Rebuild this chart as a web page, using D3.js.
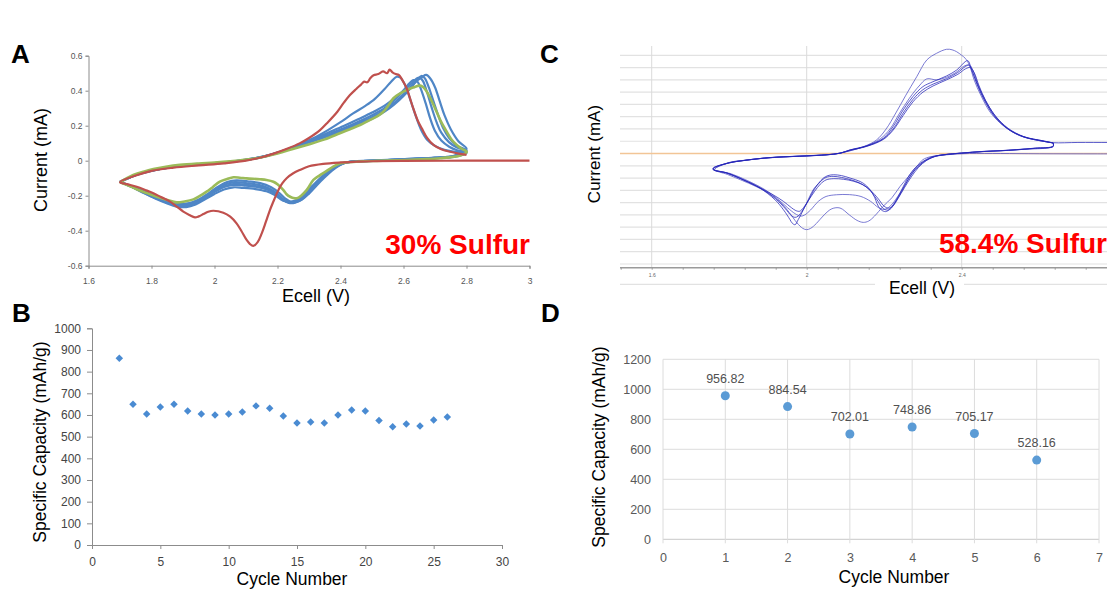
<!DOCTYPE html>
<html>
<head>
<meta charset="utf-8">
<script src="https://cdn.jsdelivr.net/npm/d3@7"></script>
<style>
html, body { margin: 0; padding: 0; background: #fff; }
svg { display: block; font-family: "Liberation Sans", Arial, sans-serif; }
</style>
</head>
<body>
<svg id="fig" width="1107" height="591"></svg>
<script>
// ---------- panel A : CV, 30% sulfur (V, mA) ----------
var aXTicks = [1.6, 1.8, 2.0, 2.2, 2.4, 2.6, 2.8, 3.0];
var aYTicks = [-0.6, -0.4, -0.2, 0, 0.2, 0.4, 0.6];

var aRed = [[3.00,0],[2.80,0],[2.60,-0.001],[2.50,-0.003],[2.45,-0.006],[2.40,-0.01],[2.345,-0.018],[2.30,-0.032],[2.271,-0.053],[2.25,-0.072],[2.229,-0.10],[2.215,-0.13],[2.203,-0.167],[2.19,-0.22],[2.176,-0.282],[2.163,-0.35],[2.15,-0.415],[2.137,-0.465],[2.123,-0.487],[2.112,-0.475],[2.102,-0.453],[2.085,-0.40],[2.07,-0.358],[2.05,-0.32],[2.028,-0.297],[1.996,-0.286],[1.98,-0.292],[1.965,-0.305],[1.95,-0.318],[1.938,-0.324],[1.92,-0.31],[1.901,-0.291],[1.88,-0.262],[1.859,-0.234],[1.83,-0.208],[1.806,-0.186],[1.78,-0.167],[1.753,-0.149],[1.725,-0.135],[1.70,-0.123],
  [1.75,-0.085],[1.80,-0.058],[1.87,-0.04],[1.95,-0.027],[2.03,-0.015],[2.10,0.0],[2.15,0.02],[2.19,0.042],[2.23,0.068],[2.27,0.099],[2.30,0.13],[2.335,0.175],[2.36,0.22],[2.39,0.28],[2.41,0.33],[2.43,0.375],[2.45,0.41],[2.465,0.435],[2.475,0.452],[2.485,0.448],[2.495,0.472],[2.505,0.488],[2.52,0.495],[2.535,0.51],[2.548,0.50],[2.556,0.52],[2.565,0.505],[2.575,0.495],[2.585,0.49],[2.595,0.465],[2.61,0.414],[2.62,0.36],[2.631,0.299],[2.645,0.23],[2.658,0.185],[2.675,0.13],[2.695,0.09],[2.72,0.065],[2.748,0.051],[2.775,0.04],[2.80,0.033]];

var aGreen = [[1.70,-0.123],[1.742,-0.082],[1.78,-0.06],[1.806,-0.048],[1.85,-0.033],[1.89,-0.024],[1.95,-0.016],[2.00,-0.011],[2.05,-0.004],[2.10,0.006],[2.15,0.02],[2.187,0.035],[2.24,0.062],[2.293,0.09],[2.35,0.122],[2.398,0.157],[2.43,0.18],[2.462,0.204],[2.485,0.225],[2.504,0.242],[2.52,0.258],[2.536,0.28],[2.55,0.31],[2.568,0.357],[2.59,0.385],[2.61,0.404],[2.63,0.418],[2.652,0.429],[2.663,0.42],[2.674,0.394],[2.69,0.34],[2.705,0.28],[2.72,0.22],[2.737,0.166],[2.753,0.12],[2.769,0.09],[2.785,0.068],[2.801,0.051],
  [2.78,0.03],[2.716,0.014],[2.66,0.008],[2.61,0.004],[2.55,0.001],[2.504,-0.002],[2.46,-0.005],[2.42,-0.009],[2.40,-0.015],[2.377,-0.034],[2.355,-0.06],[2.335,-0.082],[2.314,-0.11],[2.293,-0.167],[2.275,-0.2],[2.261,-0.215],[2.25,-0.213],[2.24,-0.206],[2.228,-0.19],[2.218,-0.167],[2.2,-0.135],[2.187,-0.12],[2.165,-0.11],[2.144,-0.106],[2.102,-0.101],[2.08,-0.097],[2.06,-0.095],[2.04,-0.105],[2.017,-0.12],[1.995,-0.15],[1.975,-0.177],[1.955,-0.2],[1.933,-0.221],[1.905,-0.233],[1.88,-0.238],[1.85,-0.224],[1.817,-0.206],[1.785,-0.185],[1.753,-0.163],[1.725,-0.14],[1.70,-0.123]];

var aBlue1 = [[1.70,-0.12],[1.75,-0.083],[1.80,-0.058],[1.87,-0.036],[1.95,-0.022],[2.03,-0.01],[2.10,0.004],[2.16,0.025],[2.21,0.05],[2.26,0.085],[2.31,0.125],[2.36,0.175],[2.40,0.22],[2.44,0.27],[2.48,0.315],[2.51,0.355],[2.54,0.41],[2.56,0.45],[2.578,0.48],[2.59,0.475],[2.60,0.45],[2.61,0.41],[2.625,0.33],[2.64,0.25],[2.655,0.18],[2.675,0.12],[2.70,0.085],[2.73,0.062],[2.765,0.05],[2.80,0.042],
  [2.76,0.022],[2.70,0.014],[2.62,0.008],[2.55,0.003],[2.49,-0.002],[2.44,-0.006],[2.41,-0.012],[2.385,-0.03],[2.36,-0.06],[2.335,-0.1],[2.31,-0.145],[2.285,-0.19],[2.26,-0.225],[2.24,-0.235],[2.225,-0.232],[2.21,-0.22],[2.19,-0.195],[2.165,-0.175],[2.13,-0.162],[2.09,-0.155],[2.06,-0.152],[2.03,-0.165],[2.00,-0.19],[1.97,-0.22],[1.94,-0.25],[1.91,-0.265],[1.88,-0.262],[1.85,-0.245],[1.81,-0.215],[1.77,-0.18],[1.735,-0.148],[1.70,-0.12]];
var aBlue2 = [[1.70,-0.121],[1.75,-0.08],[1.80,-0.056],[1.87,-0.035],[1.95,-0.021],[2.03,-0.01],[2.10,0.005],[2.16,0.026],[2.21,0.052],[2.26,0.085],[2.31,0.118],[2.36,0.15],[2.41,0.185],[2.46,0.225],[2.50,0.26],[2.54,0.30],[2.57,0.345],[2.595,0.39],[2.615,0.435],[2.632,0.46],[2.645,0.45],[2.655,0.41],[2.67,0.33],[2.685,0.24],[2.70,0.17],[2.72,0.115],[2.745,0.08],[2.77,0.06],[2.80,0.048],
  [2.76,0.024],[2.70,0.016],[2.62,0.009],[2.55,0.004],[2.49,-0.001],[2.44,-0.005],[2.415,-0.012],[2.39,-0.03],[2.365,-0.06],[2.34,-0.1],[2.315,-0.145],[2.29,-0.195],[2.265,-0.228],[2.245,-0.238],[2.23,-0.235],[2.215,-0.22],[2.195,-0.19],[2.17,-0.165],[2.135,-0.15],[2.095,-0.142],[2.06,-0.138],[2.03,-0.15],[2.00,-0.178],[1.97,-0.21],[1.94,-0.24],[1.91,-0.257],[1.88,-0.255],[1.85,-0.24],[1.81,-0.212],[1.77,-0.178],[1.735,-0.147],[1.70,-0.121]];
var aBlue3 = [[1.70,-0.122],[1.75,-0.082],[1.80,-0.057],[1.87,-0.036],[1.95,-0.022],[2.03,-0.011],[2.10,0.005],[2.16,0.024],[2.21,0.05],[2.26,0.08],[2.31,0.11],[2.36,0.14],[2.41,0.172],[2.46,0.208],[2.50,0.24],[2.54,0.28],[2.57,0.32],[2.60,0.37],[2.625,0.42],[2.645,0.465],[2.658,0.485],[2.668,0.47],[2.68,0.42],[2.695,0.34],[2.71,0.26],[2.725,0.19],[2.745,0.13],[2.77,0.085],[2.80,0.058],
  [2.76,0.026],[2.70,0.017],[2.62,0.01],[2.55,0.004],[2.49,-0.001],[2.44,-0.005],[2.415,-0.011],[2.392,-0.028],[2.37,-0.055],[2.345,-0.095],[2.32,-0.14],[2.295,-0.19],[2.272,-0.225],[2.252,-0.24],[2.236,-0.238],[2.22,-0.222],[2.2,-0.19],[2.175,-0.16],[2.14,-0.138],[2.10,-0.128],[2.065,-0.122],[2.035,-0.135],[2.005,-0.165],[1.975,-0.2],[1.945,-0.232],[1.915,-0.25],[1.885,-0.25],[1.855,-0.236],[1.815,-0.21],[1.775,-0.177],[1.735,-0.147],[1.70,-0.122]];
var aBlue4 = [[1.70,-0.122],[1.75,-0.081],[1.80,-0.056],[1.87,-0.035],[1.95,-0.021],[2.03,-0.01],[2.10,0.006],[2.16,0.026],[2.21,0.052],[2.26,0.083],[2.31,0.114],[2.36,0.146],[2.41,0.18],[2.46,0.215],[2.50,0.248],[2.54,0.29],[2.57,0.33],[2.60,0.38],[2.625,0.425],[2.645,0.46],[2.66,0.48],[2.672,0.49],[2.685,0.47],[2.70,0.42],[2.715,0.34],[2.73,0.26],[2.75,0.18],[2.775,0.11],[2.80,0.068],
  [2.76,0.028],[2.70,0.018],[2.62,0.011],[2.55,0.005],[2.49,0.0],[2.44,-0.004],[2.418,-0.01],[2.396,-0.027],[2.374,-0.055],[2.35,-0.095],[2.325,-0.14],[2.30,-0.188],[2.278,-0.222],[2.258,-0.236],[2.242,-0.235],[2.226,-0.218],[2.206,-0.185],[2.18,-0.152],[2.145,-0.128],[2.105,-0.118],[2.07,-0.112],[2.04,-0.122],[2.01,-0.15],[1.98,-0.188],[1.95,-0.222],[1.92,-0.242],[1.89,-0.246],[1.86,-0.233],[1.82,-0.208],[1.78,-0.178],[1.74,-0.148],[1.70,-0.122]];
var aBlue5 = [[1.70,-0.122],[1.75,-0.082],[1.80,-0.057],[1.87,-0.036],[1.95,-0.022],[2.03,-0.011],[2.10,0.004],[2.16,0.025],[2.21,0.051],[2.26,0.086],[2.31,0.122],[2.36,0.16],[2.41,0.198],[2.46,0.24],[2.50,0.275],[2.54,0.315],[2.57,0.355],[2.60,0.40],[2.625,0.44],[2.642,0.47],[2.652,0.475],[2.662,0.455],[2.675,0.39],[2.69,0.3],[2.705,0.22],[2.72,0.16],[2.745,0.105],[2.77,0.075],[2.80,0.055],
  [2.76,0.025],[2.70,0.016],[2.62,0.009],[2.55,0.004],[2.49,-0.001],[2.44,-0.005],[2.415,-0.011],[2.39,-0.03],[2.366,-0.06],[2.342,-0.1],[2.318,-0.145],[2.293,-0.192],[2.27,-0.228],[2.25,-0.242],[2.234,-0.24],[2.218,-0.225],[2.198,-0.195],[2.172,-0.168],[2.14,-0.148],[2.10,-0.138],[2.065,-0.132],[2.035,-0.145],[2.005,-0.172],[1.975,-0.205],[1.945,-0.236],[1.915,-0.255],[1.885,-0.255],[1.855,-0.24],[1.815,-0.212],[1.775,-0.178],[1.735,-0.147],[1.70,-0.122]];

// ---------- panel B : capacity per cycle, 30% sulfur ----------
var bCycles = [2,3,4,5,6,7,8,9,10,11,12,13,14,15,16,17,18,19,20,21,22,23,24,25,26];
var bCapacity = [862,649,605,637,649,618,605,600,605,614,642,631,595,563,568,563,600,623,618,574,546,558,549,577,591];
var bXTicks = [0,5,10,15,20,25,30];
var bYTicks = [0,100,200,300,400,500,600,700,800,900,1000];

// ---------- panel C : CV, 58.4% sulfur (V, grid units of 0.1 mA) ----------
var cXLabels = [1.6, 2.0, 2.4];
var cGridY = [-0.9,-0.8,-0.7,-0.6,-0.5,-0.4,-0.3,-0.2,-0.1,0.1,0.2,0.3,0.4,0.5,0.6,0.7,0.8];

var cCycle1 = [[2.86,-0.003],[2.75,-0.003],[2.60,-0.002],[2.50,0.0],[2.42,0.0],[2.37,-0.008],[2.335,-0.02],[2.318,-0.027],[2.30,-0.05],[2.284,-0.106],[2.262,-0.19],[2.241,-0.268],[2.22,-0.36],[2.197,-0.431],[2.175,-0.51],[2.16,-0.55],[2.146,-0.561],[2.13,-0.545],[2.11,-0.5],[2.086,-0.444],[2.065,-0.45],[2.045,-0.5],[2.025,-0.57],[2.01,-0.61],[2.00,-0.62],[1.99,-0.61],[1.975,-0.565],[1.955,-0.48],[1.93,-0.39],[1.90,-0.32],[1.87,-0.27],[1.83,-0.215],[1.795,-0.17],[1.762,-0.13],
  [1.80,-0.073],[1.84,-0.055],[1.90,-0.035],[1.96,-0.024],[2.02,-0.015],[2.07,-0.005],[2.11,0.02],[2.15,0.06],[2.18,0.11],[2.205,0.2],[2.23,0.33],[2.255,0.47],[2.284,0.626],[2.31,0.762],[2.335,0.816],[2.361,0.849],[2.375,0.845],[2.387,0.829],[2.40,0.8],[2.409,0.776],[2.42,0.72],[2.432,0.6],[2.45,0.47],[2.475,0.33],[2.51,0.22],[2.55,0.145],[2.60,0.105],[2.636,0.088]];
var cCycle2 = [[2.636,0.088],[2.636,0.06],[2.55,0.032],[2.46,0.018],[2.40,0.004],[2.355,-0.01],[2.33,-0.025],[2.30,-0.07],[2.275,-0.15],[2.255,-0.25],[2.235,-0.35],[2.215,-0.43],[2.2,-0.455],[2.185,-0.44],[2.165,-0.39],[2.14,-0.35],[2.11,-0.335],[2.077,-0.336],[2.05,-0.35],[2.03,-0.39],[2.01,-0.46],[1.995,-0.5],[1.985,-0.51],[1.97,-0.49],[1.95,-0.44],[1.925,-0.37],[1.89,-0.29],[1.85,-0.225],[1.805,-0.165],[1.762,-0.13],
  [1.80,-0.075],[1.84,-0.056],[1.90,-0.036],[1.96,-0.025],[2.02,-0.016],[2.07,-0.006],[2.11,0.022],[2.155,0.063],[2.19,0.12],[2.215,0.2],[2.24,0.33],[2.265,0.45],[2.29,0.55],[2.31,0.608],[2.335,0.6],[2.36,0.62],[2.385,0.66],[2.405,0.71],[2.418,0.72],[2.428,0.66],[2.44,0.56],[2.458,0.44],[2.485,0.3],[2.52,0.2],[2.56,0.135],[2.61,0.1],[2.636,0.085]];
var cCycle3 = [[2.636,0.085],[2.636,0.057],[2.59,0.042],[2.542,0.03],[2.50,0.022],[2.456,0.016],[2.40,0.003],[2.353,-0.011],[2.326,-0.024],[2.30,-0.065],[2.275,-0.133],[2.258,-0.214],[2.241,-0.322],[2.223,-0.418],[2.206,-0.472],[2.195,-0.465],[2.185,-0.43],[2.172,-0.336],[2.155,-0.265],[2.138,-0.228],[2.112,-0.2],[2.09,-0.18],[2.069,-0.173],[2.055,-0.18],[2.043,-0.2],[2.03,-0.245],[2.017,-0.295],[2.00,-0.403],[1.988,-0.48],[1.978,-0.539],[1.97,-0.58],[1.962,-0.565],[1.957,-0.539],[1.94,-0.458],[1.918,-0.376],[1.879,-0.281],[1.836,-0.214],[1.794,-0.159],[1.759,-0.133],
  [1.759,-0.119],[1.80,-0.075],[1.836,-0.057],[1.88,-0.04],[1.923,-0.029],[2.00,-0.019],[2.05,-0.01],[2.086,0.003],[2.112,0.03],[2.155,0.063],[2.198,0.125],[2.223,0.22],[2.249,0.355],[2.274,0.463],[2.30,0.545],[2.326,0.585],[2.361,0.632],[2.387,0.68],[2.409,0.748],[2.416,0.756],[2.426,0.68],[2.439,0.572],[2.456,0.45],[2.482,0.315],[2.516,0.207],[2.558,0.138],[2.61,0.103],[2.636,0.085]];
var cCycle4 = [[2.636,0.086],[2.636,0.058],[2.59,0.043],[2.542,0.031],[2.50,0.022],[2.456,0.016],[2.40,0.003],[2.355,-0.01],[2.33,-0.024],[2.305,-0.062],[2.28,-0.13],[2.262,-0.21],[2.245,-0.31],[2.228,-0.4],[2.215,-0.455],[2.205,-0.46],[2.195,-0.44],[2.18,-0.37],[2.16,-0.29],[2.14,-0.245],[2.115,-0.215],[2.09,-0.195],[2.068,-0.186],[2.05,-0.195],[2.035,-0.23],[2.02,-0.29],[2.005,-0.38],[1.99,-0.46],[1.978,-0.51],[1.97,-0.52],[1.96,-0.505],[1.945,-0.45],[1.92,-0.37],[1.88,-0.28],[1.836,-0.213],[1.794,-0.158],[1.759,-0.13],
  [1.759,-0.119],[1.80,-0.076],[1.836,-0.058],[1.88,-0.041],[1.923,-0.03],[2.00,-0.02],[2.05,-0.011],[2.086,0.002],[2.112,0.028],[2.155,0.06],[2.198,0.12],[2.223,0.2],[2.249,0.33],[2.274,0.44],[2.30,0.52],[2.326,0.565],[2.361,0.61],[2.39,0.66],[2.41,0.71],[2.42,0.72],[2.43,0.67],[2.442,0.56],[2.46,0.44],[2.486,0.31],[2.52,0.205],[2.56,0.138],[2.61,0.103],[2.636,0.086]];
var cCycle5 = [[2.636,0.086],[2.636,0.06],[2.59,0.044],[2.542,0.032],[2.50,0.023],[2.456,0.017],[2.40,0.004],[2.357,-0.008],[2.335,-0.02],[2.31,-0.055],[2.288,-0.115],[2.27,-0.19],[2.252,-0.28],[2.235,-0.37],[2.222,-0.43],[2.212,-0.445],[2.2,-0.43],[2.185,-0.37],[2.165,-0.3],[2.145,-0.255],[2.12,-0.225],[2.095,-0.21],[2.07,-0.205],[2.05,-0.215],[2.035,-0.25],[2.02,-0.31],[2.005,-0.38],[1.992,-0.44],[1.982,-0.47],[1.972,-0.465],[1.96,-0.44],[1.94,-0.39],[1.91,-0.33],[1.87,-0.265],[1.83,-0.205],[1.794,-0.16],[1.759,-0.132],
  [1.759,-0.12],[1.80,-0.077],[1.836,-0.058],[1.88,-0.041],[1.923,-0.03],[2.00,-0.02],[2.05,-0.011],[2.086,0.002],[2.112,0.027],[2.155,0.058],[2.198,0.115],[2.223,0.19],[2.249,0.31],[2.274,0.42],[2.30,0.5],[2.326,0.55],[2.361,0.6],[2.39,0.645],[2.41,0.69],[2.422,0.7],[2.432,0.66],[2.445,0.55],[2.462,0.43],[2.488,0.3],[2.52,0.2],[2.56,0.136],[2.61,0.1],[2.636,0.088],[2.70,0.09],[2.78,0.09],[2.86,0.09]];

// ---------- panel D : capacity per cycle, 58.4% sulfur ----------
var dCycles = [1,2,3,4,5,6];
var dCapacity = [956.82,884.54,702.01,748.86,705.17,528.16];
var dXTicks = [0,1,2,3,4,5,6,7];
var dYTicks = [0,200,400,600,800,1000,1200];

var W = 1107, H = 591;
var FONT = '"Liberation Sans", Arial, sans-serif';

var translate = function(x, y) {
  return "translate(" + x + "," + y + ")";
};

var svg = d3.select('#fig');
svg.append('rect').attr('width', W).attr('height', H).attr('fill', '#fff');

var styleAxis = function(g, lineColor, textColor, size) {
  g.attr('font-family', FONT);
  g.select('.domain').attr('stroke', lineColor);
  g.selectAll('.tick line').attr('stroke', lineColor);
  g.selectAll('.tick text').attr('fill', textColor).attr('font-size', size);
};

var trimFmt = function(d) { return String(Math.round(d * 10) / 10); };
var plainFmt = function(d) { return String(d); };

var addText = function(txt, x, y, size, opts) {
  opts = opts || {};
  var t = svg.append('text')
    .attr('x', x).attr('y', y)
    .attr('font-size', size)
    .attr('font-family', FONT)
    .attr('font-weight', opts.bold ? 'bold' : 'normal')
    .attr('fill', opts.fill || '#000')
    .attr('text-anchor', opts.anchor || 'middle')
    .text(txt);
  if (opts.rotate) t.attr('transform', 'rotate(-90,' + x + ',' + y + ')');
  return t;
};

// ================= A =================
var xA = d3.scaleLinear().domain([1.6, 3]).range([88.5, 529.5]);
var yA = d3.scaleLinear().domain([-0.6, 0.6]).range([265.7, 55.7]);

var gA = svg.append('g');
gA.append('g')
  .attr('transform', translate(0, yA(-0.6)))
  .call(d3.axisBottom(xA).tickValues(aXTicks).tickSize(3).tickPadding(9).tickFormat(trimFmt))
  .call(styleAxis, '#8c8c8c', '#555', 8.5);
gA.append('g')
  .attr('transform', translate(xA(1.6), 0))
  .call(d3.axisLeft(yA).tickValues(aYTicks).tickSize(3).tickPadding(3).tickFormat(trimFmt))
  .call(styleAxis, '#8c8c8c', '#555', 8.5);

var lineA = d3.line()
  .x(function(d) { return xA(d[0]); })
  .y(function(d) { return yA(d[1]); })
  .curve(d3.curveCatmullRom.alpha(0.5));

[aBlue1, aBlue2, aBlue3, aBlue4, aBlue5].forEach(function(c) {
  gA.append('path').datum(c).attr('d', lineA)
    .attr('fill', 'none').attr('stroke', '#4f86c6').attr('stroke-width', 2.2);
});
gA.append('path').datum(aGreen).attr('d', lineA)
  .attr('fill', 'none').attr('stroke', '#9bbb59').attr('stroke-width', 2.6);
gA.append('path').datum(aRed).attr('d', lineA)
  .attr('fill', 'none').attr('stroke', '#c0504d').attr('stroke-width', 2.2);

addText('Current (mA)', 47, 160, 18, {rotate: true});
addText('Ecell (V)', 316, 302, 18);
addText('30% Sulfur', 530, 253.5, 28, {bold: true, fill: '#ff0000', anchor: 'end'});
addText('A', 11, 63, 26, {bold: true, anchor: 'start'});

// ================= B =================
var xB = d3.scaleLinear().domain([0, 30]).range([92, 502]);
var yB = d3.scaleLinear().domain([0, 1000]).range([545, 328.3]);

svg.append('g')
  .attr('transform', translate(0, yB(0)))
  .call(d3.axisBottom(xB).tickValues(bXTicks).tickSize(4).tickPadding(8).tickFormat(plainFmt))
  .call(styleAxis, '#8c8c8c', '#444', 12);
svg.append('g')
  .attr('transform', translate(xB(0), 0))
  .call(d3.axisLeft(yB).tickValues(bYTicks).tickSize(5).tickPadding(6).tickFormat(plainFmt))
  .call(styleAxis, '#8c8c8c', '#444', 12);

svg.append('g').selectAll('path')
  .data(bCycles)
  .enter().append('path')
  .attr('d', d3.symbol().type(d3.symbolSquare).size(28))
  .attr('transform', function(d, i) { return translate(xB(d), yB(bCapacity[i])) + ' rotate(45)'; })
  .attr('fill', '#4a8bd2');

addText('Specific Capacity (mAh/g)', 46, 442, 17.5, {rotate: true});
addText('Cycle Number', 292, 585, 17.5);
addText('B', 12, 322, 26, {bold: true, anchor: 'start'});

// ================= C =================
var xC = d3.scaleLinear().domain([1.6, 2.4]).range([651.7, 961.7]);
var yC = d3.scaleLinear().domain([-0.9, 0.8]).range([264, 55.3]);
var cLeft = 620, cBottom = 267.7;

var gC = svg.append('g');
gC.selectAll('line.hgrid')
  .data(cGridY)
  .enter().append('line')
  .attr('x1', cLeft).attr('x2', W)
  .attr('y1', function(d) { return yC(d); })
  .attr('y2', function(d) { return yC(d); })
  .attr('stroke', '#e2e2e2').attr('stroke-width', 1.2);
gC.selectAll('line.vgrid')
  .data(cXLabels)
  .enter().append('line')
  .attr('x1', function(d) { return xC(d); })
  .attr('x2', function(d) { return xC(d); })
  .attr('y1', 46).attr('y2', cBottom)
  .attr('stroke', '#dadada').attr('stroke-width', 1);
// zero line
gC.append('line')
  .attr('x1', cLeft).attr('x2', W)
  .attr('y1', yC(0)).attr('y2', yC(0))
  .attr('stroke', '#f2c596').attr('stroke-width', 1.4);
// line under the axis, broken by the title
gC.append('line')
  .attr('x1', cLeft).attr('x2', W)
  .attr('y1', 284.3).attr('y2', 284.3)
  .attr('stroke', '#e2e2e2').attr('stroke-width', 1.2);

var cAxis = gC.append('g')
  .attr('transform', translate(0, cBottom))
  .call(d3.axisBottom(xC).tickValues(d3.range(1.52, 2.85, 0.08)).tickSize(2).tickPadding(4)
    .tickFormat(function(d) {
      var v = Math.round(d * 100) / 100;
      return cXLabels.indexOf(v) >= 0 ? String(v) : '';
    }))
  .call(styleAxis, '#9a9a9a', '#666', 5);
cAxis.select('.domain').attr('d', 'M' + cLeft + ',0H' + W).attr('stroke-width', 1.4);

var lineC = d3.line()
  .x(function(d) { return xC(d[0]); })
  .y(function(d) { return yC(d[1]); })
  .curve(d3.curveCatmullRom.alpha(0.5));

[cCycle1, cCycle2, cCycle3, cCycle4, cCycle5].forEach(function(c, i) {
  gC.append('path').datum(c).attr('d', lineC)
    .attr('fill', 'none')
    .attr('stroke', i < 2 ? '#5a5ac8' : '#2424b8')
    .attr('stroke-opacity', i < 2 ? 0.8 : 0.75)
    .attr('stroke-width', 1);
});

addText('Current (mA)', 600, 154, 17, {rotate: true});
svg.append('rect').attr('x', 875).attr('y', 279).attr('width', 89).attr('height', 18).attr('fill', '#fff');
addText('Ecell (V)', 922, 293.5, 17.5);
addText('58.4% Sulfur', 1107, 253, 28, {bold: true, fill: '#ff0000', anchor: 'end'});
addText('C', 540, 63, 26, {bold: true, anchor: 'start'});

// ================= D =================
var xD = d3.scaleLinear().domain([0, 7]).range([663, 1099]);
var yD = d3.scaleLinear().domain([0, 1200]).range([539.3, 359.3]);

var gD = svg.append('g');
gD.selectAll('line.hg')
  .data(dYTicks)
  .enter().append('line')
  .attr('x1', xD(0)).attr('x2', xD(7))
  .attr('y1', function(d) { return yD(d); })
  .attr('y2', function(d) { return yD(d); })
  .attr('stroke', function(d) { return d === 0 ? '#c8c8c8' : '#dcdcdc'; })
  .attr('stroke-width', 1);
gD.selectAll('line.vg')
  .data(dXTicks)
  .enter().append('line')
  .attr('x1', function(d) { return xD(d); })
  .attr('x2', function(d) { return xD(d); })
  .attr('y1', yD(1200)).attr('y2', yD(0) + 4)
  .attr('stroke', '#dcdcdc').attr('stroke-width', 1);

var dx = gD.append('g')
  .attr('transform', translate(0, yD(0)))
  .call(d3.axisBottom(xD).tickValues(dXTicks).tickSize(0).tickPadding(14).tickFormat(plainFmt))
  .call(styleAxis, 'none', '#595959', 12.5);
dx.select('.domain').remove();
var dy = gD.append('g')
  .attr('transform', translate(xD(0), 0))
  .call(d3.axisLeft(yD).tickValues(dYTicks).tickSize(0).tickPadding(12).tickFormat(plainFmt))
  .call(styleAxis, 'none', '#595959', 12.5);
dy.select('.domain').remove();

gD.selectAll('circle')
  .data(dCycles)
  .enter().append('circle')
  .attr('cx', function(d) { return xD(d); })
  .attr('cy', function(d, i) { return yD(dCapacity[i]); })
  .attr('r', 4.5)
  .attr('fill', '#5b9bd5');
gD.selectAll('text.lbl')
  .data(dCycles)
  .enter().append('text')
  .attr('x', function(d) { return xD(d); })
  .attr('y', function(d, i) { return yD(dCapacity[i]) - 13; })
  .attr('text-anchor', 'middle')
  .attr('font-family', FONT)
  .attr('font-size', 12.5)
  .attr('fill', '#505050')
  .text(function(d, i) { return dCapacity[i].toFixed(2); });

addText('Specific Capacity (mAh/g)', 605, 447, 17.5, {rotate: true});
addText('Cycle Number', 894, 583, 17.5);
addText('D', 541, 322, 26, {bold: true, anchor: 'start'});
</script>
</body>
</html>
